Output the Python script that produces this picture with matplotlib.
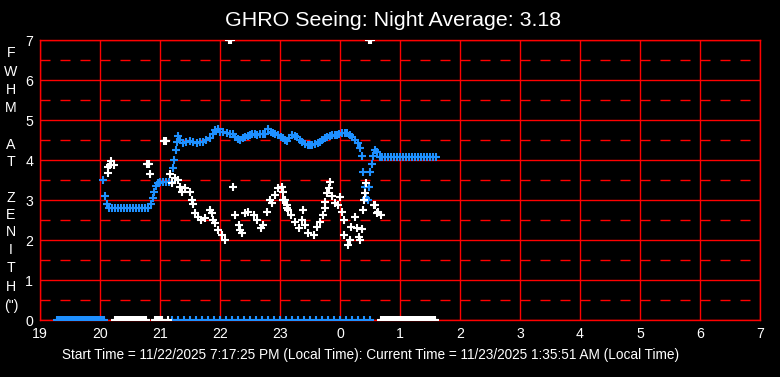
import numpy as np
import matplotlib
matplotlib.use("Agg")
import matplotlib.pyplot as plt

plt.rcParams['font.family'] = ['Liberation Sans', 'DejaVu Sans']
plt.rcParams['lines.scale_dashes'] = False

# ---------------- data ----------------
title = "GHRO Seeing: Night Average: 3.18"
footer = ("Start Time = 11/22/2025 7:17:25 PM (Local Time): "
          "Current Time = 11/23/2025 1:35:51 AM (Local Time)")
ylabel_letters = ["F", "W", "H", "M", "", "A", "T", "", "Z", "E", "N", "I", "T", "H", "(\")"]
xticks = list(range(19, 32))
xtick_labels = ["19", "20", "21", "22", "23", "0", "1", "2", "3", "4", "5", "6", "7"]
yticks = list(range(0, 8))

# blue series (hours since midnight of start day, FWHM arcsec)
blue_t = [20.05, 20.08, 20.12, 20.15, 20.20, 20.25, 20.30, 20.35, 20.40, 20.45, 20.50,
          20.55, 20.60, 20.65, 20.70, 20.75, 20.80, 20.85, 20.88, 20.90, 20.93, 20.97,
          21.00, 21.05, 21.10, 21.15, 21.20, 21.22, 21.24, 21.26, 21.28, 21.30, 21.34,
          21.38, 21.43, 21.50, 21.55, 21.61, 21.67, 21.72, 21.77, 21.83, 21.88, 21.92,
          21.97, 22.00, 22.05, 22.11, 22.17, 22.22, 22.25, 22.30, 22.33, 22.38, 22.42,
          22.47, 22.50, 22.54, 22.58, 22.62, 22.67, 22.71, 22.75, 22.80, 22.85, 22.88,
          22.92, 22.97, 23.01, 23.05, 23.09, 23.12, 23.15, 23.20, 23.25, 23.28, 23.33,
          23.37, 23.42, 23.47, 23.50, 23.53, 23.58, 23.63, 23.67, 23.70, 23.75, 23.78,
          23.83, 23.87, 23.91, 23.95, 23.99, 24.03, 24.08, 24.12, 24.17, 24.20, 24.25,
          24.30, 24.33, 24.37, 24.39, 24.42, 24.44, 24.47, 24.48, 24.50, 24.53, 24.55,
          24.58, 24.62, 24.67, 24.70, 24.75, 24.80, 24.85, 24.90, 24.95, 25.00, 25.05,
          25.10, 25.15, 25.20, 25.25, 25.30, 25.35, 25.40, 25.45, 25.50, 25.55, 25.60]
blue_v = [3.50, 3.10, 2.90, 2.80, 2.80, 2.80, 2.80, 2.80, 2.80, 2.80, 2.80,
          2.80, 2.80, 2.80, 2.80, 2.80, 2.80, 2.90, 3.05, 3.20, 3.35, 3.43,
          3.45, 3.45, 3.45, 3.45, 3.45, 3.80, 4.00, 4.25, 4.45, 4.60, 4.50,
          4.42, 4.45, 4.47, 4.45, 4.42, 4.44, 4.46, 4.50, 4.55, 4.65, 4.75,
          4.78, 4.71, 4.70, 4.67, 4.66, 4.65, 4.58, 4.53, 4.50, 4.55, 4.58,
          4.60, 4.62, 4.64, 4.64, 4.63, 4.64, 4.65, 4.66, 4.77, 4.70, 4.67,
          4.65, 4.62, 4.58, 4.55, 4.50, 4.47, 4.56, 4.62, 4.60, 4.58, 4.50,
          4.46, 4.40, 4.37, 4.37, 4.38, 4.40, 4.42, 4.46, 4.50, 4.55, 4.58,
          4.60, 4.62, 4.62, 4.62, 4.64, 4.67, 4.68, 4.67, 4.62, 4.58, 4.50,
          4.42, 4.30, 4.10, 3.71, 3.33, 3.04, 3.00, 3.33, 3.71, 3.90, 4.10,
          4.25, 4.20, 4.08, 4.08, 4.08, 4.08, 4.08, 4.08, 4.08, 4.08, 4.08,
          4.08, 4.08, 4.08, 4.08, 4.08, 4.08, 4.08, 4.08, 4.08, 4.08, 4.08]

# white series
white_t = [20.13, 20.14, 20.17, 20.19, 20.23, 20.78, 20.80, 20.82, 20.83, 21.06, 21.08,
           21.10, 21.17, 21.20, 21.25, 21.30, 21.33, 21.36, 21.42, 21.50, 21.53, 21.55,
           21.58, 21.64, 21.69, 21.75, 21.83, 21.86, 21.89, 21.92, 21.97, 22.03, 22.08,
           22.22, 22.25, 22.31, 22.33, 22.36, 22.42, 22.47, 22.56, 22.61, 22.69, 22.72,
           22.78, 22.83, 22.86, 22.92, 22.97, 23.03, 23.05, 23.05, 23.08, 23.11, 23.11,
           23.14, 23.19, 23.25, 23.31, 23.36, 23.39, 23.42, 23.47, 23.56, 23.61, 23.67,
           23.72, 23.75, 23.75, 23.78, 23.81, 23.83, 23.86, 23.92, 23.97, 24.00, 24.03,
           24.06, 24.07, 24.14, 24.17, 24.19, 24.25, 24.28, 24.31, 24.33, 24.36, 24.39,
           24.40, 24.42, 24.44, 24.56, 24.58, 24.61, 24.64, 24.69]
white_v = [3.67, 3.83, 3.88, 3.98, 3.88, 3.90, 3.90, 3.90, 3.64, 4.47, 4.47,
           4.47, 3.64, 3.42, 3.54, 3.50, 3.33, 3.21, 3.29, 3.21, 3.00, 2.90,
           2.67, 2.58, 2.50, 2.54, 2.75, 2.67, 2.50, 2.42, 2.25, 2.12, 2.00,
           3.33, 2.62, 2.38, 2.25, 2.17, 2.67, 2.71, 2.62, 2.50, 2.29, 2.38,
           2.71, 3.00, 2.92, 3.12, 3.29, 3.33, 3.21, 3.00, 3.00, 2.88, 2.79,
           2.75, 2.62, 2.46, 2.29, 2.50, 2.75, 2.38, 2.17, 2.12, 2.33, 2.46,
           2.62, 2.79, 2.94, 3.17, 3.29, 3.44, 3.10, 2.92, 2.88, 3.08, 2.71,
           2.50, 2.12, 1.88, 2.00, 2.33, 2.58, 2.29, 2.08, 2.00, 2.27, 2.75,
           3.00, 3.17, 3.42, 2.88, 2.88, 2.67, 2.71, 2.62]

# off-scale white readings (plotted at top edge)
white_top_t = [22.15, 22.17, 22.19, 24.48, 24.50, 24.52]
white_top_v = [7.0, 7.0, 7.0, 7.0, 7.0, 7.0]

# zero readings (no measurement)
blue_zero_t = list(np.round(np.arange(19.28, 20.09, 0.03), 2)) + \
              list(np.round(np.arange(21.20, 24.56, 0.10), 2))
white_zero_t = list(np.round(np.arange(20.25, 20.76, 0.03), 2)) + \
               [20.92, 20.95, 20.98, 21.01, 21.03, 21.14] + \
               list(np.round(np.arange(24.69, 25.62, 0.03), 2))

# ---------------- drawing ----------------
W, H = 780, 377
fig = plt.figure(figsize=(W / 100, H / 100), dpi=100, facecolor='black')
ax = fig.add_axes([40 / W, (H - 320) / H, 720 / W, 280 / H], facecolor='black')

red = '#FF0000'
blue = '#1E90FF'

ax.set_xlim(19, 31)
ax.set_ylim(0, 7)

# grid
for x in xticks:
    ax.axvline(x, color=red, lw=1.0, zorder=1)
for y in yticks:
    ax.axhline(y, color=red, lw=1.0, zorder=1)
for y in np.arange(0.5, 7, 1.0):
    ax.axhline(y, color=red, lw=1.0, dashes=(7.2, 7.2), zorder=1)

for s in ax.spines.values():
    s.set_color(red)
    s.set_linewidth(1.0)

mk = dict(marker='+', linestyle='none', markersize=5.5, markeredgewidth=1.5, zorder=3)
ax.plot(blue_t, blue_v, color=blue, **mk)
ax.plot(blue_zero_t, [0] * len(blue_zero_t), color=blue, **mk)
ax.plot(white_t, white_v, color='white', **mk)
ax.plot(white_zero_t, [0] * len(white_zero_t), color='white', **mk)
ax.plot(white_top_t, white_top_v, color='white', **mk)

ax.set_xticks(xticks)
ax.set_xticklabels(xtick_labels)
ax.set_yticks(yticks)
ax.tick_params(length=0, colors='white', labelsize=10.2)
ax.tick_params(axis='x', pad=5)
ax.tick_params(axis='y', pad=5)

fig.text(393 / W, 1 - 21 / H, title, color='white', fontsize=15.4,
         ha='center', va='center')
fig.text(371 / W, 1 - 355 / H, footer, color='white', fontsize=9.8,
         ha='center', va='center')

ypos = [53, 72, 90, 108, 127, 145, 162, 180, 198, 215, 232, 250, 268, 287, 306]
for letter, yp in zip(ylabel_letters, ypos):
    if letter:
        fig.text(11 / W, 1 - yp / H, letter, color='white', fontsize=10.2,
                 ha='center', va='center')

fig.savefig('out.png', dpi=100, facecolor='black')
